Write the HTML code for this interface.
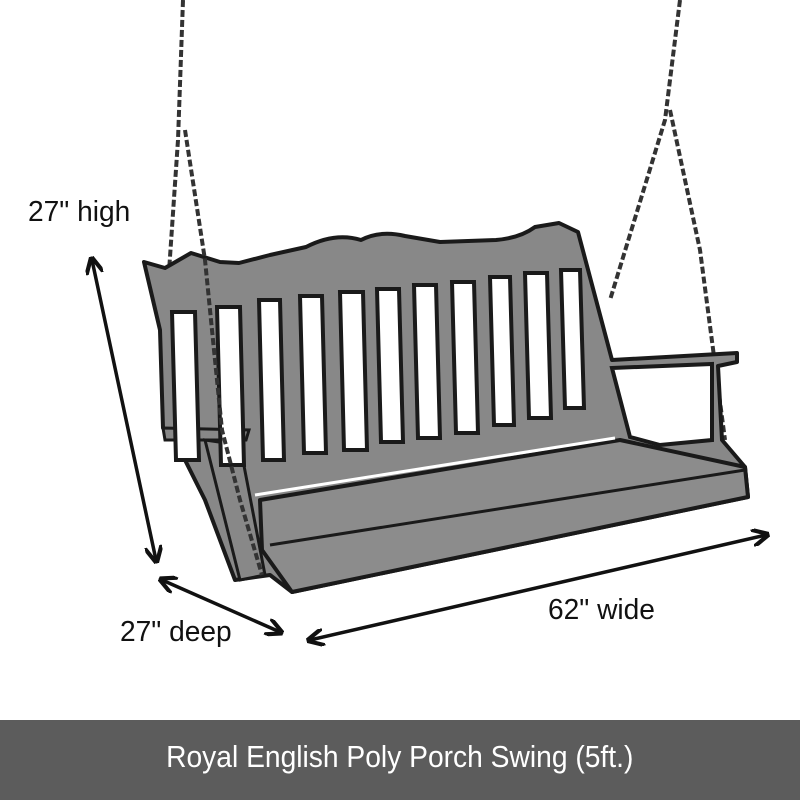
<!DOCTYPE html>
<html><head><style>
html,body{margin:0;padding:0;background:#fff;}
.wrap{position:relative;width:800px;height:800px;overflow:hidden;}
.lbl{position:absolute;font-family:"Liberation Sans Narrow","Liberation Sans",sans-serif;font-size:29px;color:#111;white-space:nowrap;transform:scaleX(0.97);transform-origin:left top;}
.band{position:absolute;left:0;top:720px;width:800px;height:80px;background:#5c5c5c;color:#fff;text-align:center;line-height:74px;font-family:"Liberation Sans Narrow","Liberation Sans",sans-serif;font-size:31px;}
.band span{display:inline-block;transform:scaleX(0.91);}
</style></head><body><div class="wrap">
<svg width="800" height="800" style="position:absolute;left:0;top:0">
<defs><marker id="ah" viewBox="0 0 10 10" refX="8" refY="5" markerWidth="5" markerHeight="5" orient="auto-start-reverse"><path d="M0,0 L10,5 L0,10" fill="none" stroke="#111" stroke-width="2.4"/></marker></defs>
<g fill="none" stroke="#333" stroke-width="4" stroke-dasharray="7,3">
<path d="M183,0 L178,140 L165,330"/>
<path d="M680,0 L665,120 L610,300"/>
<path d="M670,110 L700,250 L725,440"/>
</g>
<path d="M144,262 L165,268 L191,253 L220,262 L239,263 L270,255 L306,247 Q335,232 361,240 Q380,230 405,236 L440,242 L496,240 Q520,238 535,227 L559,223 L578,232 L612,360 L737,353 L737,362 L718,366 L722,440 L745,467 L748,497 L292,592 L270,575 L235,580 L205,500 L175,440 L163,428 L160,330 Z" fill="#888" stroke="#1a1a1a" stroke-width="4" stroke-linejoin="round"/>
<path d="M612,368 L712,364 L712,440 L660,445 L630,437 Z" fill="#fff" stroke="#1a1a1a" stroke-width="4"/>
<path d="M260,500 L620,440 L745,467 L748,497 L292,592 L262,550 Z" fill="#8c8c8c" stroke="#1a1a1a" stroke-width="4" stroke-linejoin="round"/>
<path d="M270,545 L745,470" stroke="#1a1a1a" stroke-width="3"/>
<path d="M255,495 L615,438" stroke="#fff" stroke-width="3"/>
<path d="M163,428 L249,430 L246,440 L165,440 Z" fill="#888" stroke="#1a1a1a" stroke-width="3"/>
<path d="M205,440 L240,445 L265,575 L240,580 Z" fill="#888" stroke="#1a1a1a" stroke-width="3"/>
<g fill="#fff" stroke="#1a1a1a" stroke-width="4">
<polygon points="172,312 195,312 199,460 176,460"/>
<polygon points="217,307 240,307 244,465 221,465"/>
<polygon points="259,300 280,300 284,460 263,460"/>
<polygon points="300,296 322,296 326,453 304,453"/>
<polygon points="340,292 363,292 367,450 344,450"/>
<polygon points="377,289 399,289 403,442 381,442"/>
<polygon points="414,285 436,285 440,438 418,438"/>
<polygon points="452,282 474,282 478,433 456,433"/>
<polygon points="490,277 510,277 514,425 494,425"/>
<polygon points="525,273 547,273 551,418 529,418"/>
<polygon points="561,270 580,270 584,408 565,408"/>
</g>
<g fill="none" stroke="#333" stroke-width="4" stroke-dasharray="7,3">
<path d="M185,130 L205,260 L212,330 L222,430 L240,500 L262,575"/>
</g>
<g stroke="#111" stroke-width="3.5" marker-start="url(#ah)" marker-end="url(#ah)">
<line x1="92" y1="260" x2="156" y2="560"/>
<line x1="162" y1="580" x2="280" y2="632"/>
<line x1="310" y1="640" x2="766" y2="535"/>
</g>
</svg>
<div class="lbl" style="left:28px;top:196px;">27" high</div>
<div class="lbl" style="left:120px;top:616px;">27" deep</div>
<div class="lbl" style="left:548px;top:594px;">62" wide</div>
<div class="band"><span>Royal English Poly Porch Swing (5ft.)</span></div>
</div></body></html>
